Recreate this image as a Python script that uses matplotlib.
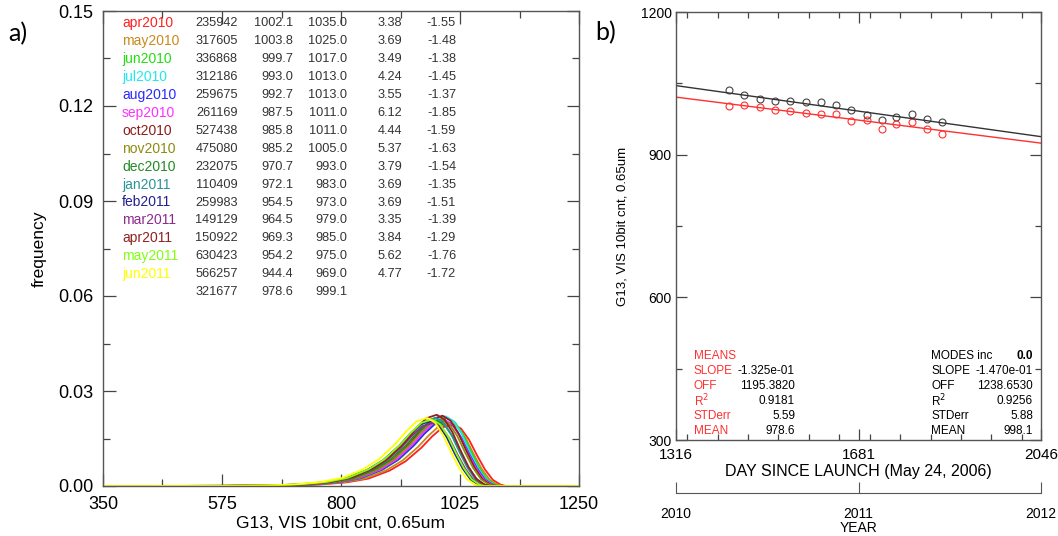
import matplotlib.pyplot as plt
from matplotlib.ticker import MultipleLocator, FormatStrFormatter

plt.rcParams['font.family'] = ['Liberation Sans', 'DejaVu Sans']

# ---------------------------------------------------------------------------
# Datos
# ---------------------------------------------------------------------------

months = ["apr2010", "may2010", "jun2010", "jul2010", "aug2010", "sep2010",
          "oct2010", "nov2010", "dec2010", "jan2011", "feb2011", "mar2011",
          "apr2011", "may2011", "jun2011"]
colors = ["#ff2020", "#c98a1c", "#22dd10", "#20e8f0", "#2a2aff", "#ff30ff",
          "#8e1c1c", "#8c8c10", "#228b22", "#2a9494", "#22228e", "#8e2a8e",
          "#8e2222", "#80ff10", "#ffff00"]
counts = [235942, 317605, 336868, 312186, 259675, 261169, 527438, 475080,
          232075, 110409, 259983, 149129, 150922, 630423, 566257]
means = [1002.1, 1003.8, 999.7, 993.0, 992.7, 987.5, 985.8, 985.2,
         970.7, 972.1, 954.5, 964.5, 969.3, 954.2, 944.4]
modes = [1035.0, 1025.0, 1017.0, 1013.0, 1013.0, 1011.0, 1011.0, 1005.0,
         993.0, 983.0, 973.0, 979.0, 985.0, 975.0, 969.0]
kurt = [3.38, 3.69, 3.49, 4.24, 3.55, 6.12, 4.44, 5.37,
        3.79, 3.69, 3.69, 3.35, 3.84, 5.62, 4.77]
skew = [-1.55, -1.48, -1.38, -1.45, -1.37, -1.85, -1.59, -1.63,
        -1.54, -1.35, -1.51, -1.39, -1.29, -1.76, -1.72]
total_row = (321677, 978.6, 999.1)

# posicion y altura del pico de cada histograma, estimadas del dibujo
peak_x = [1012, 1006, 1001, 998, 997, 995, 992, 990,
          982, 979, 970, 975, 981, 972, 963]
peak_h = [0.0195, 0.0200, 0.0215, 0.0220, 0.0205, 0.0210, 0.0222, 0.0210,
          0.0205, 0.0215, 0.0205, 0.0200, 0.0225, 0.0210, 0.0215]
# forma comun de los histogramas: distancia al pico y fraccion del pico
shape_dx = [-700, -400, -300, -250, -200, -160, -120, -90, -60, -40, -20,
            0, 15, 30, 45, 60, 75, 90, 100, 400]
shape_rel = [0.0, 0.002, 0.01, 0.025, 0.06, 0.12, 0.25, 0.40, 0.62, 0.80,
             0.95, 1.0, 0.93, 0.75, 0.50, 0.27, 0.10, 0.02, 0.0, 0.0]

# panel b: dia desde el lanzamiento (mitad de cada mes)
days = [1422, 1452, 1483, 1513, 1544, 1575, 1605, 1636,
        1666, 1697, 1728, 1756, 1787, 1817, 1848]
fit_mean = dict(slope=-1.325e-01, off=1195.3820, r2=0.9181, stderr=5.59, mean=978.6)
fit_mode = dict(slope=-1.470e-01, off=1238.6530, r2=0.9256, stderr=5.88, mean=998.1)
modes_inc = 0.0

W, H = 1058, 536


def caja(x0, y0, x1, y1):
    """pixeles (arriba-izquierda) -> fraccion de figura"""
    return [x0 / W, (H - y1) / H, (x1 - x0) / W, (y1 - y0) / H]


def estilo_idl(ax, major, minor, pad):
    ax.tick_params(which="both", direction="in", top=True, right=True,
                   colors="#444444", labelcolor="black", width=0.9)
    ax.tick_params(which="major", length=major, pad=pad)
    ax.tick_params(which="minor", length=minor)
    for s in ax.spines.values():
        s.set_color("#555555")
        s.set_linewidth(1.0)


fig = plt.figure(figsize=(W / 100, H / 100), dpi=100)

# ---------------------------------------------------------------------------
# Panel a: histogramas mensuales
# ---------------------------------------------------------------------------
ax = fig.add_axes(caja(103, 11, 579, 486))
for i in range(len(months)):
    xs = [peak_x[i] + d for d in shape_dx]
    ys = [peak_h[i] * r for r in shape_rel]
    ax.plot(xs, ys, color=colors[i], lw=1.3)

ax.set_xlim(350, 1250)
ax.set_ylim(0, 0.15)
ax.set_xticks([350, 575, 800, 1025, 1250])
ax.set_xticks([462.5, 687.5, 912.5, 1137.5], minor=True)
ax.yaxis.set_major_locator(MultipleLocator(0.03))
ax.yaxis.set_minor_locator(MultipleLocator(0.015))
ax.yaxis.set_major_formatter(FormatStrFormatter("%.2f"))
estilo_idl(ax, 9, 5, 7)
ax.tick_params(labelsize=13)
ax.set_xlabel("G13, VIS 10bit cnt, 0.65um", fontsize=12.5, labelpad=2)
ax.set_ylabel("frequency", fontsize=12.5, labelpad=8)


def fx(px):
    return (px - 103) / 476


def fy(py):
    return (486 - py) / 475


fila0, paso = 23.5, 17.9
for i in range(len(months)):
    y = fy(fila0 + i * paso)
    kw = dict(transform=ax.transAxes, va="center", fontsize=9.2, color="#333333")
    ax.text(fx(122), y, months[i], transform=ax.transAxes, va="center",
            fontsize=10, color=colors[i])
    ax.text(fx(238), y, f"{counts[i]}", ha="right", **kw)
    ax.text(fx(293), y, f"{means[i]:.1f}", ha="right", **kw)
    ax.text(fx(347), y, f"{modes[i]:.1f}", ha="right", **kw)
    ax.text(fx(402), y, f"{kurt[i]:.2f}", ha="right", **kw)
    ax.text(fx(456), y, f"{skew[i]:.2f}", ha="right", **kw)
y = fy(fila0 + len(months) * paso)
kw = dict(transform=ax.transAxes, va="center", fontsize=9.2, color="#333333", ha="right")
ax.text(fx(238), y, f"{total_row[0]}", **kw)
ax.text(fx(293), y, f"{total_row[1]:.1f}", **kw)
ax.text(fx(347), y, f"{total_row[2]:.1f}", **kw)

fig.text(8 / W, 1 - 34 / H, "a)", fontsize=18, family=["Lato", "DejaVu Sans"],
         va="center", ha="left")

# ---------------------------------------------------------------------------
# Panel b: tendencia de medias y modas
# ---------------------------------------------------------------------------
bx = fig.add_axes(caja(676, 12, 1041, 440))
x0, x1 = 1316, 2046
bx.plot(days, modes, "o", mfc="none", mec="#444444", ms=5, mew=0.8)
bx.plot(days, means, "o", mfc="none", mec="#ff3030", ms=5, mew=0.8)
bx.plot([x0, x1], [fit_mode["off"] + fit_mode["slope"] * x0,
                   fit_mode["off"] + fit_mode["slope"] * x1], color="#333333", lw=1.0)
bx.plot([x0, x1], [fit_mean["off"] + fit_mean["slope"] * x0,
                   fit_mean["off"] + fit_mean["slope"] * x1], color="#ff3030", lw=1.0)

bx.set_xlim(x0, x1)
bx.set_ylim(300, 1200)
bx.set_xticks([1316, 1681, 2046])
bx.xaxis.set_minor_locator(MultipleLocator((x1 - x0) / 12))
bx.yaxis.set_major_locator(MultipleLocator(300))
bx.yaxis.set_minor_locator(MultipleLocator(150))
estilo_idl(bx, 8, 4, 4)
bx.tick_params(axis="x", labelsize=11, pad=6)
bx.tick_params(axis="y", labelsize=10, pad=3)
bx.set_xlabel("DAY SINCE LAUNCH (May 24, 2006)", fontsize=11.5, labelpad=1)
bx.set_ylabel("G13, VIS 10bit cnt, 0.65um", fontsize=9.5, labelpad=9)


def gx(px):
    return (px - 676) / 365


def gy(py):
    return (440 - py) / 428


rojo = "#ff3030"
nombres = ["SLOPE", "OFF", r"R$^2$", "STDerr", "MEAN"]
fmt_vals = lambda f: [f"{f['slope']:.3e}", f"{f['off']:.4f}", f"{f['r2']:.4f}",
                      f"{f['stderr']:.2f}", f"{f['mean']:.1f}"]
fila0, paso = 355.7, 15.1
kt = dict(transform=bx.transAxes, va="center", fontsize=8.5)
bx.text(gx(694), gy(fila0), "MEANS", color=rojo, **kt)
bx.text(gx(931), gy(fila0), "MODES inc", color="black", **kt)
bx.text(gx(1033), gy(fila0), f"{modes_inc:.1f}", ha="right", fontweight="bold", **kt)
for j, (n, vm, vo) in enumerate(zip(nombres, fmt_vals(fit_mean), fmt_vals(fit_mode))):
    y = gy(fila0 + (j + 1) * paso)
    bx.text(gx(694), y, n, color=rojo, **kt)
    bx.text(gx(795), y, vm, ha="right", color="black", **kt)
    bx.text(gx(931), y, n, color="black", **kt)
    bx.text(gx(1033), y, vo, ha="right", color="black", **kt)

# eje secundario de anios
yx = fig.add_axes([676 / W, (H - 493) / H, 365 / W, 0.0001])
yx.set_xlim(2010, 2012)
yx.set_xticks([2010, 2011, 2012])
yx.set_yticks([])
for s in ("top", "left", "right"):
    yx.spines[s].set_visible(False)
yx.spines["bottom"].set_color("#555555")
yx.tick_params(axis="x", direction="in", length=8, color="#555555",
               labelsize=10, pad=10)
yx.set_xlabel("YEAR", fontsize=10, labelpad=0)

fig.text(595 / W, 1 - 33 / H, "b)", fontsize=18, family=["Lato", "DejaVu Sans"],
         va="center", ha="left")

fig.savefig("out.png", dpi=100)
